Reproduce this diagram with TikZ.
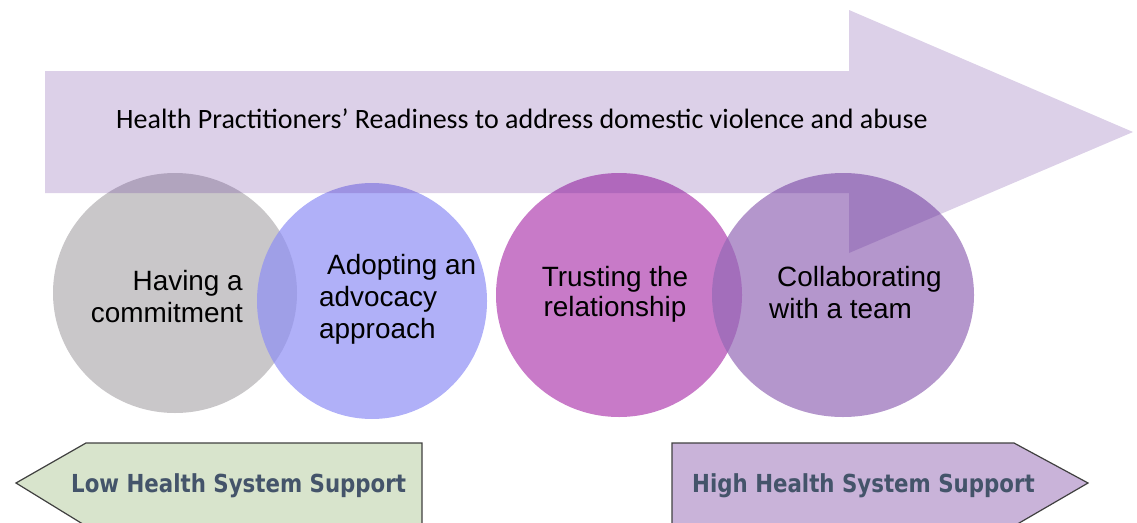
\documentclass[tikz,border=0pt]{standalone}
\usepackage{fontspec}
\setmainfont{Liberation Sans}
\newfontfamily\titlefont{Carlito}
\newfontfamily\tagfont[FakeStretch=0.86]{DejaVu Sans}
\usepackage{tikz}
\usetikzlibrary{calc}
\definecolor{readyc}{RGB}{95,41,150}
\definecolor{greyc}{RGB}{178,175,178}
\definecolor{bluec}{RGB}{142,142,245}
\definecolor{magc}{RGB}{176,66,176}
\definecolor{purpc}{RGB}{148,105,182}
\definecolor{lowc}{RGB}{216,228,204}
\definecolor{highc}{RGB}{201,179,217}
\definecolor{tagc}{RGB}{68,84,106}
\newcommand{\bubble}[5]{ \fill[#5, fill opacity=0.7] ( #1 , #2 ) ellipse [x radius=#3, y radius=#4];}
\tikzset{bubtext/.style={font=\fontsize{27.9}{32}\selectfont, inner sep=0pt},
         tagtext/.style={font=\tagfont\bfseries\fontsize{24.8}{28}\selectfont, text=tagc, inner sep=0pt, anchor=base west}}

\begin{document}
\begin{tikzpicture}[x=1pt,y=-1pt]
\useasboundingbox (0,0) rectangle (1137,522);
% the four circles
\bubble{175}{293}{122}{120}{greyc}
\bubble{372}{301}{115}{118}{bluec}
\bubble{619}{295}{123}{122}{magc}
\bubble{843}{295}{131}{122}{purpc}
% big arrow on top
\fill[readyc, fill opacity=0.22] (45,71) -- (849,71) -- (849,10) -- (1133,132)
  -- (849,253) -- (849,193) -- (45,193) -- cycle;
\node[font=\titlefont\fontsize{28}{30}\selectfont, inner sep=0pt, anchor=base west] (ready) at (116,128)
  {Health Practitioners’ Readiness to address domestic violence and abuse};
% circle labels
\node[bubtext, align=right, anchor=north east] (commit) at (243,270) {Having a\\commitment};
\node[bubtext, align=left, anchor=north west] (advocacy) at (319,254) {\hspace*{8pt}Adopting an\\advocacy\\approach};
\node[bubtext, align=center, anchor=north, font=\fontsize{27.9}{30}\selectfont] (trust) at (615,266) {Trusting the\\relationship};
\node[bubtext, align=left, anchor=north west] (team) at (769,266) {\hspace*{8pt}Collaborating\\with a team};
% bottom arrows
\draw[fill=lowc, draw=black!75, line width=1.2] (16,483) -- (86,443) -- (422,443) -- (422,526) -- (86,526) -- cycle;
\draw[fill=highc, draw=black!75, line width=1.2] (1088,483) -- (1014,443) -- (672,443) -- (672,526) -- (1014,526) -- cycle;
\node[tagtext] (low) at (71,492) {Low Health System Support};
\node[tagtext] (high) at (692,492) {High Health System Support};
\end{tikzpicture}
\end{document}
